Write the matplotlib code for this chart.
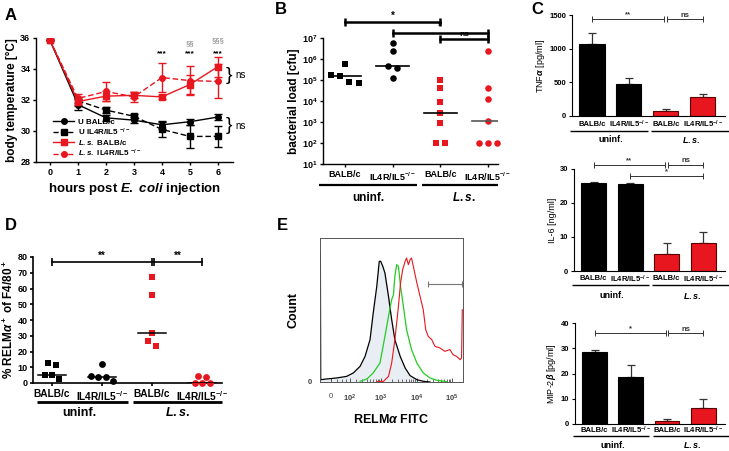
import numpy as np
import matplotlib
matplotlib.use('Agg')
import matplotlib.pyplot as plt
from matplotlib.lines import Line2D
from matplotlib.transforms import blended_transform_factory as blend

plt.rcParams['font.family'] = ['Liberation Sans', 'DejaVu Sans']
plt.rcParams['font.weight'] = 'bold'
plt.rcParams['axes.labelweight'] = 'bold'
plt.rcParams['mathtext.fontset'] = 'custom'
plt.rcParams['mathtext.rm'] = 'Liberation Sans:bold'
plt.rcParams['mathtext.it'] = 'Liberation Sans:italic:bold'
plt.rcParams['mathtext.bf'] = 'Liberation Sans:bold'

RED = '#e8161e'
W, H = 729, 451

# ---- A: body temperature (mean, sem)
hours = [0, 1, 2, 3, 4, 5, 6]
u_balb = [35.85, 31.7, 30.85, 30.7, 30.4, 30.6, 30.9]
u_balb_err = [0, 0.35, 0.2, 0.2, 0.25, 0.2, 0.2]
u_ko = [35.85, 31.95, 31.35, 30.95, 30.1, 29.65, 29.65]
u_ko_err = [0, 0.25, 0.2, 0.15, 0.5, 0.75, 0.65]
ls_balb = [35.85, 31.9, 32.25, 32.3, 32.2, 33.0, 34.15]
ls_balb_err = [0, 0.3, 0.3, 0.2, 0.15, 0.6, 0.65]
ls_ko = [35.85, 32.1, 32.55, 32.2, 33.45, 33.25, 33.2]
ls_ko_err = [0, 0.3, 0.6, 0.3, 0.95, 0.95, 1.1]

# ---- B: bacterial load
strains = ['BALB/c', 'IL4R/IL5$^{-/-}$']
cfu_u_balb = [5.5e5, 1.8e5, 1.5e5, 7.5e4, 8e4]
cfu_u_ko = [5.5e6, 2.4e6, 4.6e5, 3.8e5, 1.25e5]
cfu_ls_balb = [9.5e4, 4e4, 8.7e3, 2.6e3, 850, 100, 100]
cfu_ls_ko = [2.4e6, 4.2e4, 1.25e4, 1.1e3, 100, 100, 100]

# ---- C: cytokines (mean, sem)
tnf = [1075, 480, 75, 275]
tnf_err = [155, 85, 25, 55]
il6 = [25.9, 25.7, 5.1, 8.2]
il6_err = [0.3, 0.2, 3.0, 3.3]
mip = [28.7, 18.5, 1.2, 6.5]
mip_err = [0.5, 4.7, 0.6, 3.5]

# ---- D: % RELMa+ of F4/80+
relm_u_balb = [12.9, 11.4, 4.9, 4.9, 2.5]
relm_u_ko = [12.0, 4.4, 4.0, 3.6, 1.3]
relm_ls_balb = [67.5, 56.0, 32.0, 26.6, 23.6]
relm_ls_ko = [4.6, 3.6, 0.2, 0.2, 0.2]

# ---- E: histograms (log decades, % of max height)
e_black_u = [1.29, 1.30, 1.47, 1.75, 2.03, 2.22, 2.41, 2.55, 2.69, 2.78, 2.88, 2.95, 2.99,
             3.05, 3.11, 3.21, 3.30, 3.39, 3.54, 3.68, 3.82, 4.01, 4.19, 4.38]
e_black_c = [89.6, 1.6, 2.1, 2.8, 3.9, 6.3, 10.9, 17.8, 29.4, 47.9, 66.4, 83.8, 83.8,
             80.3, 75.7, 59.5, 43.3, 29.4, 17.8, 9.7, 4.4, 1.6, 0.5, 0]
e_green_u = [2.41, 2.60, 2.78, 2.97, 3.11, 3.21, 3.30, 3.35, 3.39, 3.44, 3.49, 3.52, 3.55,
             3.63, 3.72, 3.86, 4.01, 4.19, 4.38, 4.57, 4.85]
e_green_c = [0.5, 2.1, 6.3, 13.2, 31.7, 45.6, 57.2, 60.6, 73.4, 81.5, 80.3, 73.4, 66.4,
             52.5, 36.3, 22.5, 13.2, 6.3, 2.8, 1.2, 0.2]
e_red_u = [2.88, 3.07, 3.21, 3.30, 3.39, 3.49, 3.55, 3.61, 3.68, 3.72, 3.77, 3.82, 3.86,
           3.91, 4.01, 4.10, 4.19, 4.26, 4.33, 4.43, 4.52, 4.66, 4.80, 4.94, 5.03, 5.13,
           5.23, 5.27, 5.29]
e_red_c = [0.2, 0.5, 3.9, 13.2, 29.4, 52.5, 68.8, 78.0, 83.8, 86.1, 81.5, 85.0, 86.1,
           80.3, 68.8, 59.5, 50.2, 36.3, 31.7, 29.4, 24.8, 23.6, 21.3, 22.5, 19.0, 17.8,
           15.5, 16.7, 50.2]
e_ticks = [1.59, 2.13, 3, 4, 5]
e_ticklabels = ['0', '$10^2$', '$10^3$', '$10^4$', '$10^5$']
gate = [4.33, 5.29]

fig = plt.figure(figsize=(7.29, 4.51), dpi=100)


def ax_px(l, t, r, b):
    return fig.add_axes([l / W, 1 - b / H, (r - l) / W, (b - t) / H])


def prism(ax, lw=1.0, fs=6.5):
    for s in ['top', 'right']:
        ax.spines[s].set_visible(False)
    for s in ['left', 'bottom']:
        ax.spines[s].set_linewidth(lw)
    ax.tick_params(direction='out', length=2.5, width=lw, pad=1.5, labelsize=fs)
    for t in ax.get_xticklabels() + ax.get_yticklabels():
        t.set_fontweight('bold')


def ftext(ax, x, py, s, **kw):
    ax.text(x, 1 - py / H, s, transform=blend(ax.transData, fig.transFigure),
            ha='center', va='center', fontweight='bold', **kw)


def uline(ax, x0, x1, py, lw=1.6):
    ax.plot([x0, x1], [1 - py / H] * 2, transform=blend(ax.transData, fig.transFigure),
            color='k', lw=lw, clip_on=False, solid_capstyle='butt')


def sig(ax, x0, x1, y, label, lw=1.0, ms=5, fs=7, color='k'):
    ax.plot([x0, x1], [y, y], color=color, lw=lw, marker='|', ms=ms, mew=lw, clip_on=False)
    ax.annotate(label, ((x0 + x1) / 2, y), xytext=(0, 0.5), textcoords='offset points',
                ha='center', va='bottom', fontsize=fs, color=color, annotation_clip=False)


def spread(vals, gap, step):
    vals = np.asarray(vals, float)
    order = np.argsort(-vals, kind='stable')
    offs = np.zeros(len(vals))
    clusters, cur = [], [order[0]]
    for i in order[1:]:
        if abs(vals[cur[-1]] - vals[i]) < gap:
            cur.append(i)
        else:
            clusters.append(cur)
            cur = [i]
    clusters.append(cur)
    for c in clusters:
        for k, i in enumerate(c):
            offs[i] = (k - (len(c) - 1) / 2) * step
    return offs


# ================= A
ax = ax_px(36, 38, 233, 162)
prism(ax)
series_a = [(u_balb, u_balb_err, 'k', 'o', '-', 'U BALB/c'),
            (u_ko, u_ko_err, 'k', 's', '--', 'U IL4R/IL5 $^{-/-}$'),
            (ls_balb, ls_balb_err, RED, 's', '-', '$\\mathit{L.s.}$ BALB/c'),
            (ls_ko, ls_ko_err, RED, 'o', '--', '$\\mathit{L.s.}$ IL4R/IL5 $^{-/-}$')]
handles = []
for vals, err, col, mk, ls, lab in series_a:
    ax.errorbar(hours, vals, yerr=err, color=col, marker=mk, ms=4, ls=ls, lw=1.0,
                elinewidth=1.0, capsize=3, capthick=1.0, dashes=(4, 2) if ls == '--' else (None, None))
    handles.append(Line2D([], [], color=col, marker=mk, ms=4, ls=ls, lw=1.0, label=lab))
ax.set_xlim(-0.5, 6.54)
ax.set_ylim(28, 36)
ax.set_xticks(hours)
ax.set_yticks([28, 30, 32, 34, 36])
ax.set_xlabel('hours post $\\mathit{E.\\ coli}$ injection', fontsize=9.5, labelpad=3)
ax.set_ylabel('body temperature [°C]', fontsize=8.5, labelpad=2)
ax.legend(handles=handles, loc='lower left', bbox_to_anchor=(0.06, -0.02), frameon=False,
          fontsize=5.8, handlelength=2.6, labelspacing=0.05, handletextpad=0.5, borderpad=0.2)
ax.text(4, 34.9, '***', ha='center', fontsize=6)
ax.text(5, 34.9, '***', ha='center', fontsize=6)
ax.text(6, 34.9, '***', ha='center', fontsize=6)
ax.text(5, 35.5, '§§', ha='center', fontsize=5.5, color='#777777', fontweight='normal')
ax.text(6, 35.7, '§§§', ha='center', fontsize=5.5, color='#777777', fontweight='normal',
        clip_on=False)
for yc in [33.6, 30.35]:
    ax.text(6.28, yc, '}', ha='left', va='center', fontsize=14, fontweight='normal', clip_on=False)
    ax.text(6.62, yc, 'ns', ha='left', va='center', fontsize=7, fontweight='normal', clip_on=False)

# ================= B
ax = ax_px(323, 38, 498, 164)
prism(ax)
ax.set_yscale('log')
ax.set_ylim(10, 1e7)
ax.set_xlim(0.54, 4.21)
ax.minorticks_off()
ax.set_yticks([10 ** k for k in range(1, 8)])
ax.set_yticklabels(['$10^{%d}$' % k for k in range(1, 8)])
groups_b = [(cfu_u_balb, 'k', 's', 'k'), (cfu_u_ko, 'k', 'o', 'k'),
            (cfu_ls_balb, RED, 's', 'k'), (cfu_ls_ko, RED, 'o', '#555555')]
for i, (vals, col, mk, mcol) in enumerate(groups_b, start=1):
    offs = spread(np.log10(vals), 0.36, 0.19)
    ax.scatter(i + offs, vals, color=col, marker=mk, s=22, lw=0, zorder=3, clip_on=False)
    ax.plot([i - 0.34, i + 0.34], [np.median(vals)] * 2, color=mcol, lw=1.2, zorder=4)
ax.set_xticks([1, 2, 3, 4])
ax.set_xticklabels(strains * 2, fontsize=6.5, fontweight='bold')
ax.tick_params(axis='x', pad=2)
ax.set_ylabel('bacterial load [cfu]', fontsize=8.5, labelpad=1)
sig(ax, 1, 3, 10 ** 7.77, '*', lw=1.8, ms=6)
sig(ax, 2, 4, 10 ** 7.24, '*', lw=1.8, ms=6)
sig(ax, 3, 4, 10 ** 6.95, 'ns', lw=1.8, ms=6, fs=6)
uline(ax, 0.45, 2.51, 185)
uline(ax, 2.61, 4.2, 185)
ftext(ax, 1.5, 198, 'uninf.', fontsize=8.5)
ftext(ax, 3.5, 198, '$\\mathit{L.s.}$', fontsize=8.5)

# ================= C
c_specs = [(tnf, tnf_err, (572, 15, 725, 116), (0, 1500), [0, 500, 1000, 1500],
            'TNF$\\alpha$ [pg/ml]', 124, 131.5, 140,
            [(0, 2, 1436, '**'), (2, 3, 1436, 'ns')]),
           (il6, il6_err, (574, 169, 725, 271), (0, 30), [0, 10, 20, 30],
            'IL-6 [ng/ml]', 279, 285, 296,
            [(0, 2, 31.2, '**'), (2, 3, 31.2, 'ns'), (1, 3, 27.9, '*')]),
           (mip, mip_err, (575, 323, 725, 424), (0, 40), [0, 10, 20, 30, 40],
            'MIP-2$\\beta$ [pg/ml]', 430, 435.5, 445,
            [(0, 2, 35.9, '*'), (2, 3, 35.9, 'ns')])]
for vals, err, box, ylim, yt, ylab, ty, uy, gy, sigs in c_specs:
    ax = ax_px(*box)
    prism(ax, lw=0.8, fs=5.5)
    x = np.arange(4)
    ax.bar(x, vals, width=0.68, color=['k', 'k', RED, RED],
           edgecolor=['k', 'k', '#5a0000', '#5a0000'], lw=0.8, zorder=2)
    ax.errorbar(x, vals, yerr=[np.zeros(4), err], fmt='none', ecolor='#333333',
                elinewidth=0.9, capsize=3, capthick=0.9, zorder=1)
    ax.set_xlim(-0.54, 3.6)
    ax.set_ylim(*ylim)
    ax.set_yticks(yt)
    ax.set_xticks([])
    ax.set_ylabel(ylab, fontsize=6.5, fontweight='normal', labelpad=2)
    for xi, lab in zip(x, strains * 2):
        ftext(ax, xi, ty, lab, fontsize=5.5)
    uline(ax, -0.59, 1.51, uy, lw=1.0)
    uline(ax, 1.61, 3.73, uy, lw=1.0)
    ftext(ax, 0.5, gy, 'uninf.', fontsize=6.5)
    ftext(ax, 2.7, gy, '$\\mathit{L.s.}$', fontsize=6.5)
    for x0, x1, yv, lab in sigs:
        sx0 = x0 + 0.04 if x0 == 2 else x0
        sx1 = x1 - 0.04 if x1 == 2 else x1
        sig(ax, sx0, sx1, yv, lab, lw=0.7, ms=4, fs=5.5, color='#333333')

# ================= D
ax = ax_px(33, 257, 222, 383)
prism(ax, lw=1.2, fs=6.5)
ax.set_xlim(0.62, 4.4)
ax.set_ylim(0, 80)
ax.set_yticks(range(0, 81, 10))
groups_d = [(relm_u_balb, 'k', 's'), (relm_u_ko, 'k', 'o'),
            (relm_ls_balb, RED, 's'), (relm_ls_ko, RED, 'o')]
for i, (vals, col, mk) in enumerate(groups_d, start=1):
    offs = spread(vals, 3.3, 0.15)
    ax.scatter(i + offs, vals, color=col, marker=mk, s=24, lw=0, zorder=3, clip_on=False)
    ax.plot([i - 0.28, i + 0.28], [np.median(vals)] * 2, color='k', lw=1.1, zorder=4)
ax.set_xticks([1, 2, 3, 4])
ax.set_xticklabels(strains * 2, fontsize=7.3, fontweight='bold')
ax.tick_params(axis='x', pad=2)
ax.set_ylabel('% RELM$\\alpha^+$ of F4/80$^+$', fontsize=8.5, labelpad=1)
sig(ax, 1, 3, 77, '**', lw=1.2, ms=6, fs=7)
sig(ax, 3.04, 4, 77, '**', lw=1.2, ms=6, fs=7)
uline(ax, 0.7, 2.52, 401.5, lw=2)
uline(ax, 2.62, 4.4, 401.5, lw=2)
ftext(ax, 1.55, 413, 'uninf.', fontsize=9)
ftext(ax, 3.5, 413, '$\\mathit{L.s.}$', fontsize=9)

# ================= E
ax = ax_px(320, 238, 463, 382)
ax.fill_between(e_black_u, e_black_c, color='#e9edf4', lw=0)
ax.plot(e_black_u, e_black_c, color='k', lw=0.9)
ax.plot(e_green_u, e_green_c, color='#22cc22', lw=0.9)
ax.plot(e_red_u, e_red_c, color=RED, lw=0.8)
ax.plot(gate, [68, 68], color='#777777', lw=0.8, marker='|', ms=5, mew=0.8)
ax.set_xlim(1.28, 5.31)
ax.set_ylim(0, 100)
for s in ax.spines.values():
    s.set_linewidth(0.7)
    s.set_color('#555555')
ax.set_xticks(e_ticks)
ax.set_xticklabels(e_ticklabels, fontweight='normal')
minor = [np.log10(k * 10.0 ** d) for d in range(2, 5) for k in range(2, 10)]
ax.set_xticks([m for m in minor if m < 5.3] + [1.75, 1.9, 2.0], minor=True)
ax.tick_params(axis='x', direction='in', length=3, width=0.7, labelsize=5.5, pad=8,
               colors='#555555', labelcolor='#444444')
ax.tick_params(axis='x', which='minor', direction='in', length=2, width=0.6, colors='#555555')
ax.set_yticks([0])
ax.tick_params(axis='y', length=0, labelsize=5.5, pad=6, labelcolor='#444444')
ax.set_xlabel('RELM$\\alpha$ FITC', fontsize=9, labelpad=6)
ax.set_ylabel('Count', fontsize=9, labelpad=6)

# panel letters
for lab, px, py in [('A', 5, 15.5), ('B', 275, 10), ('C', 531, 10), ('D', 5, 226), ('E', 277, 226)]:
    fig.text(px / W, 1 - py / H, lab, fontsize=12, fontweight='bold', va='center', ha='left')

fig.savefig('out.png', dpi=100)
